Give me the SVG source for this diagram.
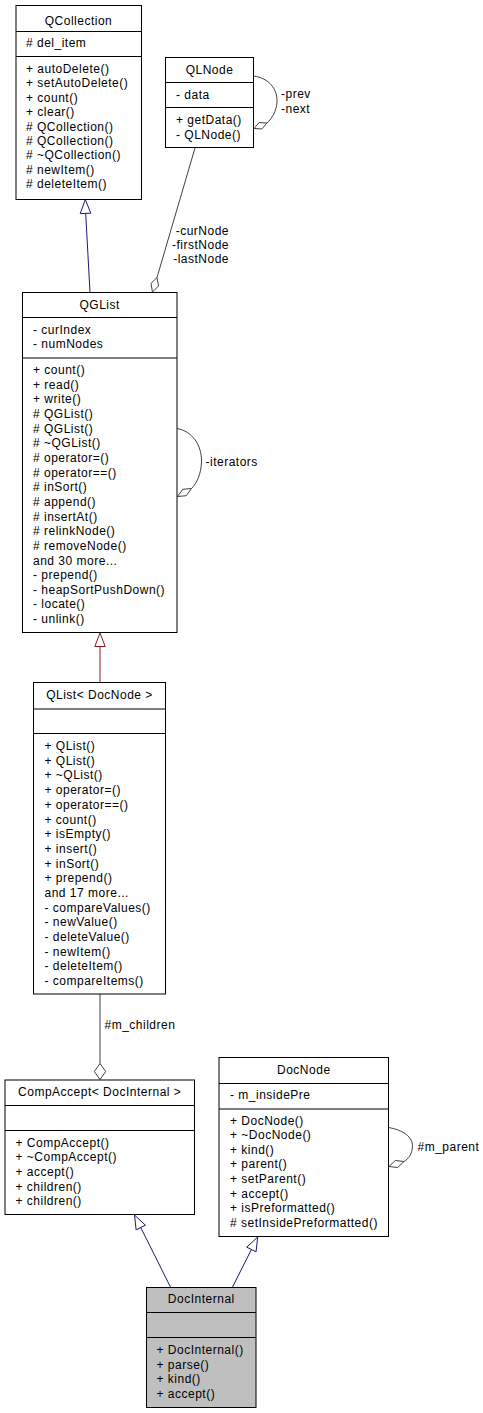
<svg xmlns="http://www.w3.org/2000/svg" width="483" height="1413" viewBox="0 0 483 1413">
<style>
text{font-family:"Liberation Sans",Arial,sans-serif;font-size:12px;letter-spacing:0.5px;fill:#000}
.t{text-anchor:middle}
.box{fill:#fff;stroke:#000;stroke-width:1}
.cur{fill:#bfbfbf;stroke:#000;stroke-width:1}
.div{stroke:#000;stroke-width:1}
.pub{stroke:#191970;fill:none;stroke-width:1}
.pubh{stroke:#191970;fill:#fff;stroke-width:1}
.pri{stroke:#8b1a1a;fill:none;stroke-width:1}
.prih{stroke:#8b1a1a;fill:#fff;stroke-width:1}
.use{stroke:#404040;fill:none;stroke-width:1}
.useh{stroke:#404040;fill:#fff;stroke-width:1}
</style>
<rect width="483" height="1413" fill="#fff"/>
<g id="connectors">
  <path class="pub" d="M90,292.5 L85.7,213.5"/>
  <polygon class="pubh" points="85.3,199.5 80.2,213.6 90.8,213.2"/>
  <path class="use" d="M195,148 L157,277.5"/>
  <polygon class="useh" points="152.5,292 158.55,285.95 157,277.5 150.95,283.55"/>
  <text x="229" y="235" text-anchor="end">-curNode</text>
  <text x="229" y="248.5" text-anchor="end">-firstNode</text>
  <text x="229" y="263" text-anchor="end">-lastNode</text>
  <path class="use" d="M253.5,76 C269,78 277.5,89 277,102 C276.5,111 272,118.5 267,123"/>
  <polygon class="useh" points="254,128.5 261.85,128.95 267,123 259.15,122.55"/>
  <text x="281" y="97.5">-prev</text>
  <text x="281" y="112.5">-next</text>
  <path class="use" d="M177,428.5 C192,431 202,445 201.5,462 C201,474 197,483 191.5,488.5"/>
  <polygon class="useh" points="177.5,496.5 186.3,495.7 191.5,488.5 182.7,489.3"/>
  <text x="205.5" y="466">-iterators</text>
  <path class="pri" d="M100,682.5 L100,646.5"/>
  <polygon class="prih" points="100,633 94.8,646.5 105.2,646.5"/>
  <path class="use" d="M100,994 L100,1063.5"/>
  <polygon class="useh" points="100,1063.5 105.7,1071.5 100,1079.5 94.3,1071.5"/>
  <text x="104.5" y="1028.5">#m_children</text>
  <path class="use" d="M388.5,1127.5 C403,1130 413,1137 412.5,1146.5 C412,1154 409,1158.5 404,1161.5"/>
  <polygon class="useh" points="389,1166.5 397.7,1167.5 404,1161.5 395.3,1160.5"/>
  <text x="417.5" y="1151">#m_parent</text>
  <path class="pub" d="M170.7,1287.5 L140.76,1227.53"/>
  <polygon class="pubh" points="134.5,1215 145.4,1225.2 136.1,1229.85"/>
  <path class="pub" d="M232.3,1287.5 L251.41,1249.51"/>
  <polygon class="pubh" points="257.7,1237 256.06,1251.85 246.76,1247.17"/>
</g>
<g id="QCollection">
  <rect class="box" x="16" y="5.5" width="125.5" height="194"/>
  <line class="div" x1="16" y1="31.5" x2="141.5" y2="31.5"/>
  <line class="div" x1="16" y1="56.5" x2="141.5" y2="56.5"/>
  <text class="t" x="78.5" y="25">QCollection</text>
  <text x="26" y="47"># del_item</text>
  <text x="26" y="73">+ autoDelete()</text>
  <text x="26" y="87.4">+ setAutoDelete()</text>
  <text x="26" y="101.8">+ count()</text>
  <text x="26" y="116.1">+ clear()</text>
  <text x="26" y="130.5"># QCollection()</text>
  <text x="26" y="144.9"># QCollection()</text>
  <text x="26" y="159.3"># ~QCollection()</text>
  <text x="26" y="173.6"># newItem()</text>
  <text x="26" y="188"># deleteItem()</text>
</g>
<g id="QLNode">
  <rect class="box" x="165.5" y="57.5" width="88" height="90"/>
  <line class="div" x1="165.5" y1="82.5" x2="253.5" y2="82.5"/>
  <line class="div" x1="165.5" y1="107.5" x2="253.5" y2="107.5"/>
  <text class="t" x="209.5" y="73.5">QLNode</text>
  <text x="176" y="98.5">- data</text>
  <text x="176" y="124">+ getData()</text>
  <text x="176" y="138.5">- QLNode()</text>
</g>
<g id="QGList">
  <rect class="box" x="22.5" y="292.5" width="154.5" height="340"/>
  <line class="div" x1="22.5" y1="317.5" x2="177" y2="317.5"/>
  <line class="div" x1="22.5" y1="358" x2="177" y2="358"/>
  <text class="t" x="99.7" y="308.5">QGList</text>
  <text x="33" y="333.5">- curIndex</text>
  <text x="33" y="348">- numNodes</text>
  <text x="33" y="374">+ count()</text>
  <text x="33" y="388.6">+ read()</text>
  <text x="33" y="403.3">+ write()</text>
  <text x="33" y="418"># QGList()</text>
  <text x="33" y="432.6"># QGList()</text>
  <text x="33" y="447.3"># ~QGList()</text>
  <text x="33" y="461.9"># operator=()</text>
  <text x="33" y="476.6"># operator==()</text>
  <text x="33" y="491.2"># inSort()</text>
  <text x="33" y="505.9"># append()</text>
  <text x="33" y="520.5"># insertAt()</text>
  <text x="33" y="535.2"># relinkNode()</text>
  <text x="33" y="549.8"># removeNode()</text>
  <text x="33" y="564.5">and 30 more...</text>
  <text x="33" y="579.1">- prepend()</text>
  <text x="33" y="593.8">- heapSortPushDown()</text>
  <text x="33" y="608.4">- locate()</text>
  <text x="33" y="623">- unlink()</text>
</g>
<g id="QList_DocNode">
  <rect class="box" x="33.5" y="682.5" width="132" height="311.5"/>
  <line class="div" x1="33.5" y1="709" x2="165.5" y2="709"/>
  <line class="div" x1="33.5" y1="733.5" x2="165.5" y2="733.5"/>
  <text class="t" x="99.5" y="698.5">QList&lt; DocNode &gt;</text>
  <text x="44.5" y="750">+ QList()</text>
  <text x="44.5" y="764.7">+ QList()</text>
  <text x="44.5" y="779.4">+ ~QList()</text>
  <text x="44.5" y="794.1">+ operator=()</text>
  <text x="44.5" y="808.8">+ operator==()</text>
  <text x="44.5" y="823.5">+ count()</text>
  <text x="44.5" y="838.1">+ isEmpty()</text>
  <text x="44.5" y="852.8">+ insert()</text>
  <text x="44.5" y="867.5">+ inSort()</text>
  <text x="44.5" y="882.2">+ prepend()</text>
  <text x="44.5" y="896.9">and 17 more...</text>
  <text x="44.5" y="911.6">- compareValues()</text>
  <text x="44.5" y="926.3">- newValue()</text>
  <text x="44.5" y="941">- deleteValue()</text>
  <text x="44.5" y="955.7">- newItem()</text>
  <text x="44.5" y="970.4">- deleteItem()</text>
  <text x="44.5" y="985">- compareItems()</text>
</g>
<g id="CompAccept_DocInternal">
  <rect class="box" x="5" y="1080" width="189.5" height="134.5"/>
  <line class="div" x1="5" y1="1105.5" x2="194.5" y2="1105.5"/>
  <line class="div" x1="5" y1="1130.5" x2="194.5" y2="1130.5"/>
  <text class="t" x="99.7" y="1096">CompAccept&lt; DocInternal &gt;</text>
  <text x="15.5" y="1146.5">+ CompAccept()</text>
  <text x="15.5" y="1161.2">+ ~CompAccept()</text>
  <text x="15.5" y="1175.8">+ accept()</text>
  <text x="15.5" y="1190.5">+ children()</text>
  <text x="15.5" y="1205.2">+ children()</text>
</g>
<g id="DocNode">
  <rect class="box" x="219" y="1057.5" width="169.5" height="179"/>
  <line class="div" x1="219" y1="1083.5" x2="388.5" y2="1083.5"/>
  <line class="div" x1="219" y1="1109" x2="388.5" y2="1109"/>
  <text class="t" x="303.8" y="1073.5">DocNode</text>
  <text x="230" y="1098.5">- m_insidePre</text>
  <text x="230" y="1124.5">+ DocNode()</text>
  <text x="230" y="1139.1">+ ~DocNode()</text>
  <text x="230" y="1153.7">+ kind()</text>
  <text x="230" y="1168.4">+ parent()</text>
  <text x="230" y="1183">+ setParent()</text>
  <text x="230" y="1197.6">+ accept()</text>
  <text x="230" y="1212.2">+ isPreformatted()</text>
  <text x="230" y="1226.8"># setInsidePreformatted()</text>
</g>
<g id="DocInternal">
  <rect class="cur" x="146.5" y="1287.5" width="109.5" height="120"/>
  <line class="div" x1="146.5" y1="1312.5" x2="256" y2="1312.5"/>
  <line class="div" x1="146.5" y1="1337.5" x2="256" y2="1337.5"/>
  <text class="t" x="201.3" y="1302.5">DocInternal</text>
  <text x="156.5" y="1354.3">+ DocInternal()</text>
  <text x="156.5" y="1368.7">+ parse()</text>
  <text x="156.5" y="1383.1">+ kind()</text>
  <text x="156.5" y="1397.5">+ accept()</text>
</g>
</svg>
